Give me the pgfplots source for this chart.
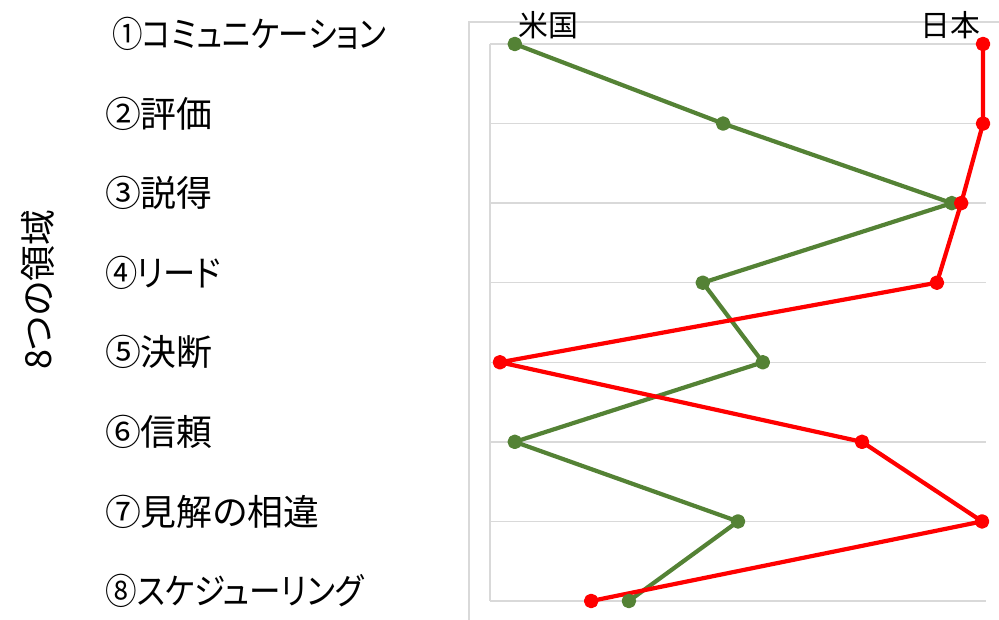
\documentclass[border=0pt]{standalone}
\usepackage{pgfplots}
\pgfplotsset{compat=1.18}
\usepackage{fontspec}
\setmainfont{Noto Sans CJK JP}[RawFeature=+palt]
\definecolor{usgreen}{HTML}{548235}
\definecolor{jpred}{HTML}{FF0000}
\definecolor{gridgray}{HTML}{D9D9D9}
\newcommand{\nar}[2]{\scalebox{#1}[1]{#2}}
\begin{document}
\begin{tikzpicture}[x=0.5bp,y=0.5bp]
\useasboundingbox (0,0) rectangle (999,620);
\draw[gridgray, line width=0.75bp] (469,0) -- (469,598) -- (999,598);
\begin{axis}[
  at={(245bp,9.5bp)}, anchor=south west, scale only axis,
  width=248bp, height=278.5bp,
  xmin=0, xmax=100, ymin=1, ymax=8, y dir=reverse,
  hide x axis,
  axis y line*=left,
  axis line style={draw=gridgray, line width=0.75bp, -},
  ymajorgrids, grid style={draw=gridgray, line width=0.75bp},
  ytick={1,2,3,4,5,6,7,8},
  yticklabels={\hspace{3.5bp}\nar{0.85}{①コミュニケーション},②評価,③説得,\nar{0.9}{④リード},⑤決断,⑥信頼,⑦見解の相違,\nar{0.88}{⑧スケジューリング}},
  major tick length=0pt,
  yticklabel style={anchor=west, xshift=-196bp, yshift=5bp, font=\fontsize{18}{21}\selectfont},
  clip=false,
]
\addplot[usgreen, line width=2.1bp, line join=round, mark=*, mark size=2.6bp, mark options={solid, fill=usgreen}]
  coordinates {(5.0,1) (47.0,2) (93.1,3) (42.9,4) (55.0,5) (5.0,6) (50.0,7) (28.0,8)};
\addplot[jpred, line width=2.1bp, line join=round, mark=*, mark size=2.6bp, mark options={solid, fill=jpred}]
  coordinates {(99.4,1) (99.4,2) (95.0,3) (90.1,4) (2.0,5) (75.0,6) (99.2,7) (20.4,8)};
\end{axis}
\node[rotate=90, font=\fontsize{18}{21}\selectfont] at (38,330) {8つの領域};
\node[font=\fontsize{15}{18}\selectfont] at (548,595) {米国};
\node[font=\fontsize{15}{18}\selectfont] at (950,595) {日本};
\end{tikzpicture}
\end{document}
